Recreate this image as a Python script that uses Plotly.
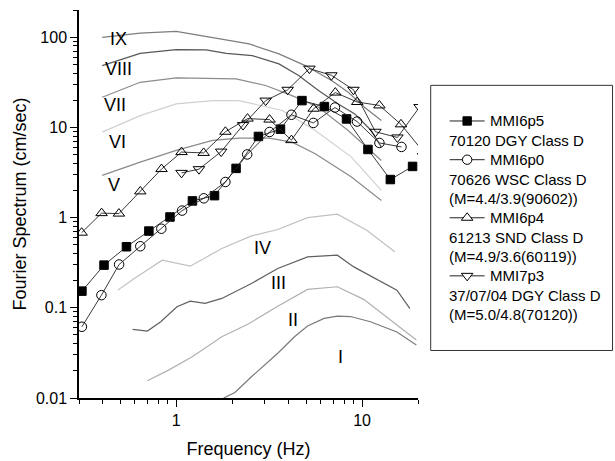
import numpy as np
import plotly.graph_objects as go

# ---------------- data ----------------
# MMI reference curves (frequency Hz, Fourier amplitude cm/s)
freq_I = [1.80, 2.07, 2.54, 3.52, 4.33, 5.09, 6.25, 7.36, 8.66, 11.1, 15.4, 19.6]
amp_I = [0.0100, 0.0115, 0.0172, 0.0313, 0.0478, 0.0628, 0.0763, 0.081, 0.080, 0.070, 0.054, 0.0387]

freq_II = [0.70, 0.915, 1.22, 1.76, 2.44, 3.52, 5.09, 7.36, 10.2, 15.4, 19.6]
amp_II = [0.0155, 0.0205, 0.0287, 0.0478, 0.066, 0.104, 0.160, 0.171, 0.124, 0.064, 0.044]

freq_III = [0.583, 0.70, 0.826, 1.01, 1.19, 1.43, 1.76, 2.54, 3.52, 5.09, 7.36, 9.03, 15.4, 18.1]
amp_III = [0.0577, 0.0552, 0.070, 0.1026, 0.1186, 0.112, 0.127, 0.186, 0.273, 0.367, 0.383, 0.284, 0.157, 0.098]

freq_IV = [0.485, 0.595, 0.842, 1.19, 1.76, 2.54, 3.52, 5.09, 7.36, 10.6, 15.0]
amp_IV = [0.157, 0.211, 0.337, 0.289, 0.454, 0.626, 0.737, 1.0, 1.09, 0.724, 0.417]

freq_V = [0.40, 0.64, 1.0, 1.57, 2.18, 3.16, 4.2, 5.6, 8.77, 12.7]
amp_V = [2.94, 4.12, 5.55, 7.17, 7.6, 7.6, 6.86, 5.1, 2.81, 1.55]

freq_VI = [0.40, 0.64, 1.0, 1.57, 2.18, 3.72, 5.6, 8.77, 12.7]
amp_VI = [8.85, 13.5, 18.2, 19.8, 19.8, 15.4, 9.24, 4.68, 2.0]

freq_VII = [0.40, 0.64, 1.0, 1.57, 2.1, 3.03, 4.2, 5.83, 8.42, 12.7]
amp_VII = [21.6, 31.6, 35.4, 34.5, 34.5, 29.1, 22.5, 16.7, 9.24, 4.3]

freq_VIII = [0.40, 0.64, 1.0, 1.45, 1.86, 2.57, 3.57, 4.56, 5.83, 7.45, 9.14, 11.2, 12.7]
amp_VIII = [48.4, 66.2, 72.8, 72.3, 66.2, 62.4, 50.5, 37.5, 25.6, 18.2, 14.1, 9.24, 6.04]

freq_IX = [0.40, 0.64, 1.0, 1.57, 2.47, 3.57, 4.95, 6.86, 8.42, 10.3, 12.7]
amp_IX = [99.5, 111, 116, 98, 84.1, 65.2, 48.4, 33, 24.5, 16.7, 11.9]

mmi_names = ["I", "II", "III", "IV", "V", "VI", "VII", "VIII", "IX"]
mmi_colors = ["#7a7a7a", "#b0b0b0", "#606060", "#c0c0c0", "#8a8a8a",
              "#d0d0d0", "#8c8c8c", "#575757", "#7d7d7d"]
# label anchor positions (Hz, cm/s)
label_freq = [7.64, 4.24, 3.57, 2.90, 0.46, 0.483, 0.471, 0.489, 0.489]
label_amp = [0.0285, 0.0731, 0.1876, 0.457, 2.28, 6.81, 17.9, 44.8, 96.0]

# recorded spectra
mmi6p5_freq = [0.311, 0.409, 0.540, 0.713, 0.926, 1.223, 1.608, 2.10, 2.77, 3.64, 4.75, 6.27, 8.25, 10.76, 14.2, 18.7]
mmi6p5_amp = [0.153, 0.297, 0.475, 0.709, 1.015, 1.53, 1.75, 3.51, 7.93, 9.55, 19.8, 17.0, 12.4, 5.69, 2.64, 3.69]

mmi6p0_freq = [0.311, 0.396, 0.493, 0.641, 0.832, 1.076, 1.408, 1.84, 2.41, 3.18, 4.17, 5.47, 7.15, 9.40, 12.4, 16.3]
mmi6p0_amp = [0.0616, 0.138, 0.302, 0.481, 0.752, 1.195, 1.635, 2.48, 5.01, 8.89, 13.8, 11.2, 16.6, 11.6, 6.72, 6.07]

mmi6p4_freq = [0.31, 0.397, 0.492, 0.641, 0.834, 1.068, 1.405, 1.84, 2.42, 3.18, 4.17, 5.49, 7.18, 9.42, 12.4, 16.2, 21.3]
mmi6p4_amp = [0.68, 1.12, 1.107, 1.95, 3.45, 5.32, 5.21, 8.94, 12.5, 12.2, 7.22, 16.1, 24.3, 19.1, 17.5, 10.8, 5.4]

mmi7p3_freq = [1.068, 1.326, 1.746, 2.29, 3.03, 3.98, 5.21, 6.84, 8.99, 11.8, 15.5, 20.4]
mmi7p3_amp = [3.13, 3.44, 5.39, 10.6, 19.8, 26.1, 44.8, 37.8, 26.1, 8.94, 7.73, 16.8]

series_names = ["MMI6p5", "MMI6p0", "MMI6p4", "MMI7p3"]
series_details = [
    ["70120 DGY Class D"],
    ["70626 WSC Class D", "(M=4.4/3.9(90602))"],
    ["61213 SND Class D", "(M=4.9/3.6(60119))"],
    ["37/07/04 DGY Class D", "(M=5.0/4.8(70120))"],
]
series_symbols = ["square", "circle-open", "triangle-up-open", "triangle-down-open"]

y_tick_vals = [0.01, 0.1, 1, 10, 100]
y_tick_text = ["0.01", "0.1", "1", "10", "100"]
x_tick_vals = [1, 10]
x_tick_text = ["1", "10"]

# ---------------- figure ----------------
FONT = "Liberation Sans, Arial, sans-serif"
W_FIG, H_FIG = 615, 461
# plot-area edges in window pixels
L, R, T, B = 79, 418.3, 9.5, 398.3

fig = go.Figure()

mmi_freqs = [freq_I, freq_II, freq_III, freq_IV, freq_V, freq_VI, freq_VII, freq_VIII, freq_IX]
mmi_amps = [amp_I, amp_II, amp_III, amp_IV, amp_V, amp_VI, amp_VII, amp_VIII, amp_IX]
for name, f, a, c in zip(mmi_names, mmi_freqs, mmi_amps, mmi_colors):
    fig.add_trace(go.Scatter(x=f, y=a, mode="lines", name=name,
                             line=dict(color=c, width=1.2), showlegend=False,
                             hoverinfo="skip"))

s_freqs = [mmi6p5_freq, mmi6p0_freq, mmi6p4_freq, mmi7p3_freq]
s_amps = [mmi6p5_amp, mmi6p0_amp, mmi6p4_amp, mmi7p3_amp]
s_sizes = [8.5, 9.5, 10, 10]
for name, f, a, sym, sz in zip(series_names, s_freqs, s_amps, series_symbols, s_sizes):
    fig.add_trace(go.Scatter(
        x=f, y=a, mode="lines+markers", name=name, showlegend=False,
        line=dict(color="#222222", width=0.9),
        marker=dict(symbol=sym, size=sz, color="black",
                    line=dict(color="black", width=1)),
    ))

annotations = []
for name, fx, ay in zip(mmi_names, label_freq, label_amp):
    annotations.append(dict(x=np.log10(fx), y=np.log10(ay), xref="x", yref="y",
                            text=name, showarrow=False,
                            font=dict(family=FONT, size=18, color="black"),
                            xanchor="center", yanchor="middle"))

# ---- hand-built legend box (window pixels converted to paper coords) ----
PW, PH = R - L, B - T
def px(x):
    return (x - L) / PW
def py(y):
    return (B - y) / PH

shapes = [dict(type="rect", xref="paper", yref="paper",
               x0=px(431), x1=px(613), y0=py(85), y1=py(350.7),
               line=dict(color="#333333", width=1), fillcolor="rgba(0,0,0,0)")]

row_y0, row_step = 120.7, 19.4
row = 0
sym_x0, sym_x1, sym_xc = 450, 485, 467.5
for i, name in enumerate(series_names):
    yc = row_y0 + row * row_step
    shapes.append(dict(type="line", xref="paper", yref="paper",
                       x0=px(sym_x0), x1=px(sym_x1), y0=py(yc), y1=py(yc),
                       line=dict(color="#222222", width=1)))
    sym = series_symbols[i]
    if sym == "square":
        h = 4.2
        shapes.append(dict(type="rect", xref="paper", yref="paper",
                           x0=px(sym_xc - h), x1=px(sym_xc + h), y0=py(yc + h), y1=py(yc - h),
                           line=dict(color="black", width=1), fillcolor="black"))
    elif sym == "circle-open":
        r = 4.7
        shapes.append(dict(type="circle", xref="paper", yref="paper",
                           x0=px(sym_xc - r), x1=px(sym_xc + r), y0=py(yc + r), y1=py(yc - r),
                           line=dict(color="black", width=1), fillcolor="white"))
    else:
        rr = 5.0
        rt = rr * 2 / np.sqrt(3)
        if sym == "triangle-up-open":
            pts = [(sym_xc - rt, yc + rr / 2), (sym_xc + rt, yc + rr / 2), (sym_xc, yc - rr)]
        else:
            pts = [(sym_xc - rt, yc - rr / 2), (sym_xc + rt, yc - rr / 2), (sym_xc, yc + rr)]
        path = "M " + " L ".join(f"{px(a):.5f},{py(b):.5f}" for a, b in pts) + " Z"
        shapes.append(dict(type="path", xref="paper", yref="paper", path=path,
                           line=dict(color="black", width=1), fillcolor="white"))
    annotations.append(dict(x=px(488), y=py(yc), xref="paper", yref="paper",
                            text=name, showarrow=False, xanchor="left", yanchor="middle",
                            font=dict(family=FONT, size=15, color="black")))
    row += 1
    for line_text in series_details[i]:
        yc = row_y0 + row * row_step
        annotations.append(dict(x=px(447), y=py(yc), xref="paper", yref="paper",
                                text=line_text, showarrow=False, xanchor="left", yanchor="middle",
                                font=dict(family=FONT, size=15, color="black")))
        row += 1

y_minor = [m * d for d in [0.01, 0.1, 1, 10] for m in range(2, 10)] + [200]
x_minor = [m * 0.1 for m in range(3, 10)] + list(range(2, 10)) + [20]

axis_common = dict(showgrid=False, zeroline=False, showline=True, linecolor="black",
                   linewidth=1.5, ticks="outside", tickcolor="black", tickwidth=1.3,
                   ticklen=7, mirror=False,
                   tickfont=dict(family=FONT, size=16, color="black"))

fig.update_layout(
    width=W_FIG, height=H_FIG,
    margin=dict(l=L, r=W_FIG - R, t=T, b=H_FIG - B, autoexpand=False),
    paper_bgcolor="white", plot_bgcolor="white",
    showlegend=False,
    font=dict(family=FONT, color="black"),
    xaxis=dict(type="log", range=[np.log10(0.3), np.log10(20)],
               tickmode="array", tickvals=x_tick_vals, ticktext=x_tick_text,
               minor=dict(ticks="outside", ticklen=4, tickwidth=1, tickcolor="black",
                          tickvals=x_minor),
               title=dict(text="Frequency (Hz)", font=dict(family=FONT, size=18, color="black"),
                          standoff=14),
               **axis_common),
    yaxis=dict(type="log", range=[-2, np.log10(200)],
               tickmode="array", tickvals=y_tick_vals, ticktext=y_tick_text,
               minor=dict(ticks="outside", ticklen=4, tickwidth=1, tickcolor="black",
                          tickvals=y_minor),
               title=dict(text="Fourier Spectrum (cm/sec)",
                          font=dict(family=FONT, size=18, color="black"), standoff=5),
               **axis_common),
    annotations=annotations,
    shapes=shapes,
)

# remove the default page margin so the 615x461 figure fills the window exactly
fig.write_html("out.html",
               config={"displayModeBar": False},
               post_script="document.body.style.margin='0';document.body.style.overflow='hidden';")
